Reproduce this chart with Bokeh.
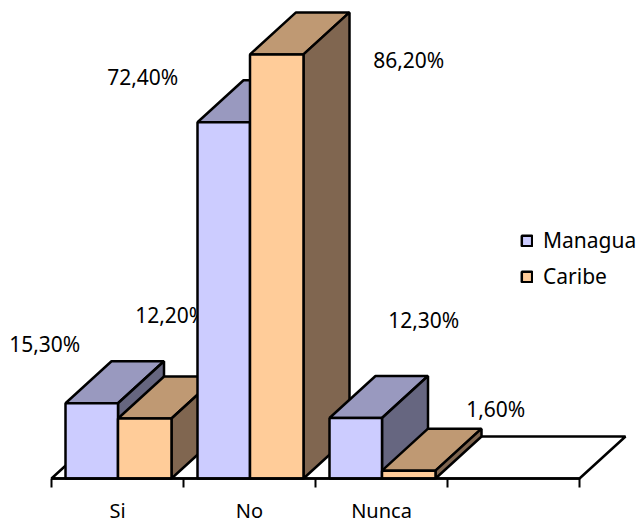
from bokeh.plotting import figure
from bokeh.models import Range1d, LinearAxis, FixedTicker, Legend, LegendItem, ColumnDataSource
from bokeh.core.properties import value
from bokeh.embed import file_html
from bokeh.resources import INLINE

categories = ["Si", "No", "Nunca"]
managua = [15.3, 72.4, 12.3]
caribe = [12.2, 86.2, 1.6]
n_slots = 4

FONT = "Noto Sans"
PX_X = 132.0
PX_Y = 4.92
W, H = 642, 523
BOTTOM = 478
LEFT = 51
LW = 2.5

# depth of the oblique projection, in data units
DX = 46 / PX_X
DY = 42 / PX_Y
BAR_W_M = 52.5 / PX_X
BAR_W_C = 53.5 / PX_X
BAR_GAP = 14 / PX_X

p = figure(width=W, height=H, output_backend="svg", toolbar_location=None,
           x_range=Range1d(-LEFT / PX_X, (W - LEFT) / PX_X),
           y_range=Range1d(-(H - BOTTOM) / PX_Y, BOTTOM / PX_Y),
           x_axis_type=None, y_axis_type=None,
           min_border=0, outline_line_color=None)
p.xgrid.visible = False
p.ygrid.visible = False

# floor of the 3D box
p.patch([0, DX, n_slots + DX, n_slots], [0, DY, DY, 0],
        fill_color="white", line_color="black", line_width=LW)

# value labels sit behind the columns; offsets are in screen pixels from the column's top centre
def fmt(v):
    return f"{v:.2f}".replace(".", ",") + "%"

lab_x, lab_y, lab_t, lab_dx, lab_dy = [], [], [], [], []
offsets_m = [(-47, -59), (-81, -45), (68, -98)]
offsets_c = [(26, -103), (132, 6), (87, -62)]
for i in range(len(categories)):
    x0 = i + BAR_GAP
    lab_x += [x0 + BAR_W_M / 2, x0 + BAR_W_M + BAR_W_C / 2]
    lab_y += [managua[i], caribe[i]]
    lab_t += [fmt(managua[i]), fmt(caribe[i])]
    lab_dx += [offsets_m[i][0], offsets_c[i][0]]
    lab_dy += [offsets_m[i][1], offsets_c[i][1]]

p.text(x="x", y="y", text="t", x_offset="dx", y_offset="dy",
       source=ColumnDataSource(dict(x=lab_x, y=lab_y, t=lab_t, dx=lab_dx, dy=lab_dy)),
       text_font=value(FONT), text_font_size="21px", text_color="black",
       text_align="center", text_baseline="middle")


def column(x0, width, v, front, top, side):
    x1 = x0 + width
    p.patch([x0, x0 + DX, x1 + DX, x1], [v, v + DY, v + DY, v],
            fill_color=top, line_color="black", line_width=LW)
    p.patch([x1, x1 + DX, x1 + DX, x1], [0, DY, v + DY, v],
            fill_color=side, line_color="black", line_width=LW)
    return p.quad(left=x0, right=x1, bottom=0, top=v,
                  fill_color=front, line_color="black", line_width=LW)


legend_m = legend_c = None
for i in range(len(categories)):
    x0 = i + BAR_GAP
    legend_m = column(x0, BAR_W_M, managua[i], "#CCCCFF", "#9999BF", "#666680")
    legend_c = column(x0 + BAR_W_M, BAR_W_C, caribe[i], "#FFCC99", "#BF9973", "#806650")

# category axis: labels at the slot centres, ticks at the slot edges
axis = LinearAxis(ticker=FixedTicker(ticks=[i + 0.5 for i in range(len(categories))],
                                     minor_ticks=list(range(n_slots + 1))))
axis.fixed_location = 0
axis.major_label_overrides = {i + 0.5: c for i, c in enumerate(categories)}
axis.bounds = (0, n_slots)
axis.axis_line_color = "black"
axis.axis_line_width = LW
axis.major_tick_line_color = None
axis.major_tick_out = 0
axis.major_tick_in = 0
axis.minor_tick_line_color = "black"
axis.minor_tick_line_width = 2
axis.minor_tick_out = 9
axis.minor_tick_in = 0
axis.major_label_standoff = 9
axis.major_label_text_font = FONT
axis.major_label_text_font_size = "20px"
axis.major_label_text_color = "black"
p.add_layout(axis, "below")

legend = Legend(items=[LegendItem(label="Managua", renderers=[legend_m]),
                       LegendItem(label="Caribe", renderers=[legend_c])],
                location=(520, 523 - 290), orientation="vertical",
                background_fill_alpha=0, border_line_color=None,
                glyph_width=13, glyph_height=13, label_standoff=10,
                spacing=8, padding=0, margin=0,
                label_text_font=FONT, label_text_font_size="21px",
                label_text_color="black")
p.add_layout(legend, "center")

open("out.html", "w").write(file_html(p, INLINE))
